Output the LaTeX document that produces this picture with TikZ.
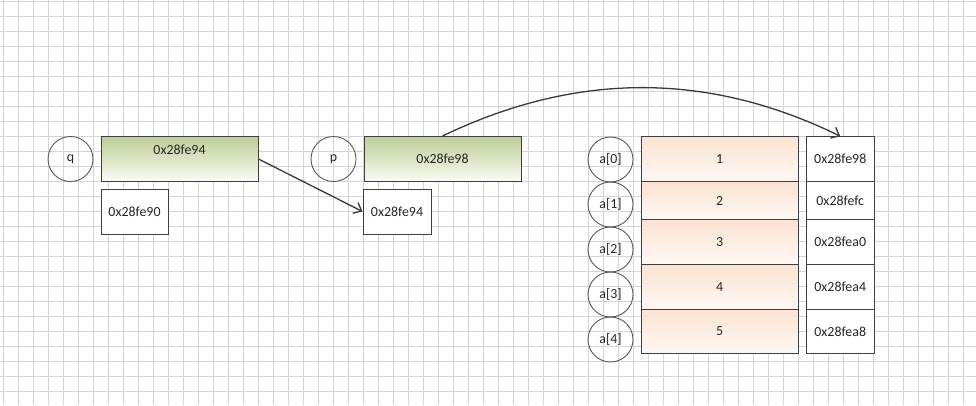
\documentclass[tikz,border=0pt]{standalone}
\usepackage{fontspec}
\setmainfont{Carlito}
\usetikzlibrary{arrows.meta}
\definecolor{gridgray}{RGB}{212,212,212}
\definecolor{edgegray}{RGB}{64,64,64}
\definecolor{ringgray}{RGB}{90,90,90}
\definecolor{greentop}{RGB}{190,205,150}
\definecolor{greenbot}{RGB}{250,251,244}
\definecolor{pinktop}{RGB}{251,227,210}
\definecolor{pinkbot}{RGB}{254,248,244}
\tikzset{
  every node/.style={font=\fontsize{13.9}{16}\selectfont, text=black!85},
  var/.style={circle, draw=ringgray, line width=0.9pt, minimum size=45pt, inner sep=0pt},
  cell/.style={rectangle, draw=edgegray, line width=1pt, inner sep=0pt, fill=white},
  valbox/.style={cell, top color=greentop, bottom color=greenbot, minimum width=157pt, minimum height=45pt},
  elem/.style={cell, top color=pinktop, bottom color=pinkbot, minimum width=156.5pt},
  addr/.style={cell, minimum width=67.5pt},
  ptr/.style={draw=edgegray!90!black, line width=1.3pt, -{Straight Barb[length=7pt,width=12pt,line width=1.3pt]}}
}
\begin{document}
\begin{tikzpicture}[x=1pt,y=-1pt]
  \useasboundingbox (0,0) rectangle (976,405);
  % background grid
  \fill[white] (0,0) rectangle (976,405);
  \foreach \gx in {0,...,64} {
    \draw[gridgray, line width=0.9pt] (3.3+15*\gx,0) -- (3.3+15*\gx,405);
  }
  \foreach \gy in {0,...,26} {
    \draw[gridgray, line width=0.9pt] (0,1.3+15*\gy) -- (976,1.3+15*\gy);
  }

  % pointer q
  \node[var] (q) at (70.5,159) {q};
  \node[valbox, text height=10pt, text depth=19pt] (qval) at (179.5,159) {0x28fe94};
  \node[cell, minimum width=67pt, minimum height=45pt] (qaddr) at (134.5,211.5) {0x28fe90};

  % pointer p
  \node[var] (p) at (333.5,159) {p};
  \node[valbox] (pval) at (442.5,159) {0x28fe98};
  \node[cell, minimum width=68pt, minimum height=45pt] (paddr) at (397,211.5) {0x28fe94};

  % array a
  \foreach \i/\v/\ad/\top/\bot in {0/1/0x28fe98/136.7/181.7,
                                   1/2/0x28fefc/181.7/219.3,
                                   2/3/0x28fea0/219.3/264.3,
                                   3/4/0x28fea4/264.3/309.3,
                                   4/5/0x28fea8/309.3/353.3} {
    \node[elem, minimum height={\bot-\top}] (e\i) at (719.75,{(\top+\bot)/2}) {\v};
    \node[addr, minimum height={\bot-\top}] (ad\i) at (840.25,{(\top+\bot)/2}) {\ad};
  }
  \foreach \i in {0,...,4} {
    \node[var] (a\i) at (610.5,159.5+45*\i) {a[\i]};
  }

  % pointer links
  \draw[ptr] (qval.east) -- (paddr.west);
  \draw[ptr] (pval.north) .. controls +(133,-64) and +(-133,-65) .. (ad0.north);
\end{tikzpicture}
\end{document}
